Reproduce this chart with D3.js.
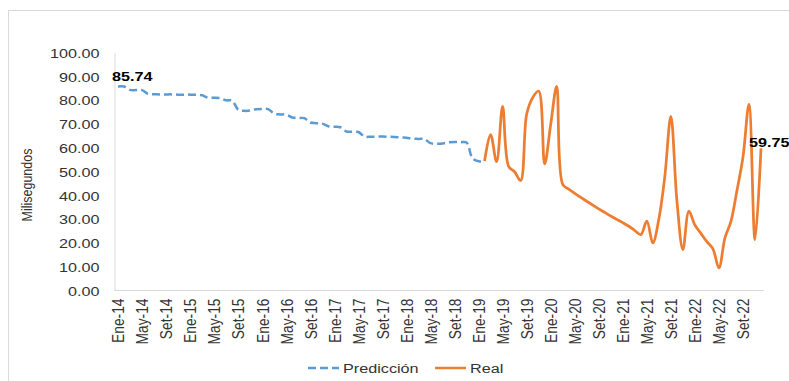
<!DOCTYPE html>
<html>
<head>
<meta charset="utf-8">
<script src="https://cdn.jsdelivr.net/npm/d3@7"></script>
<style>
  html, body { margin: 0; padding: 0; background: #fff; }
  svg { display: block; font-family: "Liberation Sans", Arial, sans-serif; }
</style>
</head>
<body>
<svg id="chart" width="789" height="381"></svg>
<script>
// Month names and years covered by the series
const monthNames = ["Ene", "Feb", "Mar", "Abr", "May", "Jun", "Jul", "Ago", "Set", "Oct", "Nov", "Dic"];
const years = ["14", "15", "16", "17", "18", "19", "20", "21", "22"];

// Forecast (milliseconds), Ene-14 .. Feb-19
const prediccion = [
  85.74, 85.7, 84.3, 84.2, 84.2, 82.6, 82.5, 82.4, 82.4, 82.4, 82.3, 82.3, 82.3, 82.2,
  82.0, 81.0, 81.0, 80.8, 79.9, 79.8, 76.0, 75.5, 75.6, 76.2, 76.3, 76.2, 74.3, 74.0,
  73.9, 72.7, 72.5, 72.4, 70.6, 70.3, 70.1, 69.0, 68.8, 68.6, 66.8, 66.7, 66.6, 64.7,
  64.6, 64.7, 64.7, 64.6, 64.5, 64.3, 64.2, 63.8, 63.7, 63.6, 61.9, 61.7, 61.8, 62.3,
  62.4, 62.3, 62.2, 55.5, 54.3, 54.4
];
const prediccionStart = "Ene-14";

// Observed values (milliseconds), Feb-19 .. Dic-22
const real = [
  54.4, 65.5, 54.1, 77.4, 52.2, 49.9, 46.2, 74.0, 81.0, 83.8,
  53.2, 69.7, 85.8, 44.6, 42.6, 40.8, 39.1, 37.5, 35.9, 34.3,
  32.8, 31.3, 29.9, 28.5, 27.0, 25.2, 23.5, 29.1, 20.0, 30.0,
  48.0, 73.2, 38.0, 17.2, 33.3, 27.5, 24.0, 20.5, 17.5, 9.5,
  22.1, 29.0, 42.0, 56.0, 78.2, 21.4, 59.75
];
const realStart = "Feb-19";

const yTicks = [0, 10, 20, 30, 40, 50, 60, 70, 80, 90, 100];
const seriesNames = ["Predicción", "Real"];
const seriesColors = ["#5B9BD5", "#ED7D31"];

const months = [];
years.forEach(y => monthNames.forEach(m => months.push(m + "-" + y)));
const xTickLabels = months.filter((d, i) => i % 4 === 0);

const svg = d3.select("#chart");
const textColor = "#333";
const axisColor = "#d9d9d9";
const stretch = "scale(1.2,1)";

// Chart frame
svg.append("rect")
  .attr("x", 8.5).attr("y", 10.5)
  .attr("width", 900).attr("height", 500)
  .attr("fill", "none").attr("stroke", axisColor);

const x = d3.scalePoint().domain(months).range([115, 764]).padding(0.5);
const y = d3.scaleLinear().domain([0, 100]).range([290.5, 52.5]);

// Y axis
const gy = svg.append("g")
  .attr("transform", "translate(114.5,0)")
  .call(d3.axisLeft(y).tickValues(yTicks).tickFormat(d3.format(".2f")).tickSize(0));
gy.select(".domain").attr("stroke", axisColor);
gy.selectAll("text")
  .attr("x", 0).attr("dy", "0.35em")
  .attr("transform", "translate(-15,0) " + stretch)
  .attr("fill", textColor)
  .style("font-size", "13.5px")
  .style("font-family", "Liberation Sans, Arial, sans-serif");

// X axis
const gx = svg.append("g")
  .attr("transform", "translate(0,290.5)")
  .call(d3.axisBottom(x).tickValues(xTickLabels).tickSize(0));
gx.select(".domain").attr("stroke", axisColor).attr("d", "M114,0H764");
gx.selectAll("text")
  .attr("x", 0).attr("y", 0).attr("dy", "0.35em")
  .attr("text-anchor", "end")
  .attr("transform", "translate(0,8) " + stretch + " rotate(-90)")
  .attr("fill", textColor)
  .style("font-size", "13.8px")
  .style("font-family", "Liberation Sans, Arial, sans-serif");

// Axis title
svg.append("text")
  .attr("transform", "translate(32,185) " + stretch + " rotate(-90)")
  .attr("text-anchor", "middle")
  .attr("fill", textColor)
  .style("font-size", "12.5px")
  .text("Milisegundos");

// Lines
const line = d3.line()
  .x(d => x(d.m))
  .y(d => y(d.v))
  .curve(d3.curveCatmullRom.alpha(0.5));

const toPoints = (vals, start) => {
  const i0 = months.indexOf(start);
  return vals.map((v, i) => ({ m: months[i0 + i], v }));
};
const predPts = toPoints(prediccion, prediccionStart);
const realPts = toPoints(real, realStart);

svg.append("path")
  .datum(predPts)
  .attr("d", line)
  .attr("fill", "none")
  .attr("stroke", seriesColors[0])
  .attr("stroke-width", 2.5)
  .attr("stroke-dasharray", "8,4");

svg.append("path")
  .datum(realPts)
  .attr("d", line)
  .attr("fill", "none")
  .attr("stroke", seriesColors[1])
  .attr("stroke-width", 2.75)
  .attr("stroke-linejoin", "round");

// Value labels at the ends of the series
const fmt = d3.format(".2f");
svg.append("text")
  .attr("transform", `translate(${x(predPts[0].m) - 6},${y(predPts[0].v) - 5}) ` + stretch)
  .attr("fill", "#000")
  .style("font-size", "13.5px").style("font-weight", "bold")
  .text(fmt(predPts[0].v));
const lastReal = realPts[realPts.length - 1];
svg.append("text")
  .attr("transform", `translate(${x(lastReal.m) - 12},${y(lastReal.v) - 1}) ` + stretch)
  .attr("fill", "#000")
  .style("font-size", "13.5px").style("font-weight", "bold")
  .text(fmt(lastReal.v));

// Legend
const legend = [
  { name: seriesNames[0], color: seriesColors[0], dash: "8,4", x0: 308 },
  { name: seriesNames[1], color: seriesColors[1], dash: null, x0: 435 }
];
const lg = svg.append("g");
legend.forEach(d => {
  lg.append("line")
    .attr("x1", d.x0).attr("x2", d.x0 + 31)
    .attr("y1", 368).attr("y2", 368)
    .attr("stroke", d.color).attr("stroke-width", 2.5)
    .attr("stroke-dasharray", d.dash);
  lg.append("text")
    .attr("transform", `translate(${d.x0 + 35},373) ` + stretch)
    .attr("fill", textColor)
    .style("font-size", "13.5px")
    .text(d.name);
});
</script>
</body>
</html>
